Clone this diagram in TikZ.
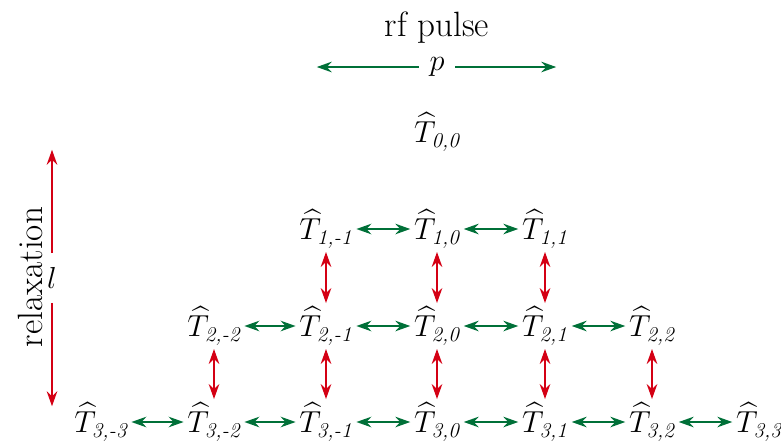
\documentclass[tikz,border=0pt]{standalone}
\usepackage{amsmath}
\usetikzlibrary{arrows.meta}
\definecolor{pulsegreen}{RGB}{0,112,56}
\definecolor{relaxred}{RGB}{212,0,20}

\begin{document}
\begin{tikzpicture}[x=0.02cm,y=-0.02cm,
    >={Stealth[length=8.5pt,width=6pt]},
    tens/.style={inner sep=1pt,font=\LARGE},
    rf/.style={pulsegreen,line width=1.1pt,shorten >=1pt,shorten <=1pt},
    rl/.style={relaxred,line width=1.1pt,shorten >=1pt,shorten <=1pt},
    bigtext/.style={font=\fontsize{20}{22}\selectfont}]
  \useasboundingbox (0,0) rectangle (781,441);
  % rf pulse and relaxation
  \node[bigtext] at (437,28) (rfp) {rf pulse};
  \node[font=\LARGE,inner sep=5pt] at (437,67) (p) {$p$};
  \coordinate (pl) at (315,67);
  \coordinate (pr) at (558,67);
  \draw[rf,->] (p) -- (pl);
  \draw[rf,->] (p) -- (pr);
  \node[bigtext,rotate=90] at (30,277) (relax) {relaxation};
  \node[font=\LARGE,inner sep=7pt] at (52,278) (l) {$l$};
  \coordinate (lt) at (52,148);
  \coordinate (lb) at (52,408);
  \draw[rl,->] (l) -- (lt);
  \draw[rl,->] (l) -- (lb);
  % tensor operators
  \node[tens] at (437,132) (t00) {$\widehat{T}_{\textit{0,0}}$};
  \node[tens] at (326,229) (t1m1) {$\widehat{T}_{\textit{1,-1}}$};
  \node[tens] at (437,229) (t10) {$\widehat{T}_{\textit{1,0}}$};
  \node[tens] at (545,229) (t11) {$\widehat{T}_{\textit{1,1}}$};
  \node[tens] at (214,326) (t2m2) {$\widehat{T}_{\textit{2,-2}}$};
  \node[tens] at (326,326) (t2m1) {$\widehat{T}_{\textit{2,-1}}$};
  \node[tens] at (437,326) (t20) {$\widehat{T}_{\textit{2,0}}$};
  \node[tens] at (545,326) (t21) {$\widehat{T}_{\textit{2,1}}$};
  \node[tens] at (652,326) (t22) {$\widehat{T}_{\textit{2,2}}$};
  \node[tens] at (101,422) (t3m3) {$\widehat{T}_{\textit{3,-3}}$};
  \node[tens] at (214,422) (t3m2) {$\widehat{T}_{\textit{3,-2}}$};
  \node[tens] at (326,422) (t3m1) {$\widehat{T}_{\textit{3,-1}}$};
  \node[tens] at (437,422) (t30) {$\widehat{T}_{\textit{3,0}}$};
  \node[tens] at (545,422) (t31) {$\widehat{T}_{\textit{3,1}}$};
  \node[tens] at (652,422) (t32) {$\widehat{T}_{\textit{3,2}}$};
  \node[tens] at (759,422) (t33) {$\widehat{T}_{\textit{3,3}}$};
  % coherence transfer
  \draw[rf,<->] (t1m1) -- (t10);
  \draw[rf,<->] (t10) -- (t11);
  \draw[rf,<->] (t2m2) -- (t2m1);
  \draw[rf,<->] (t2m1) -- (t20);
  \draw[rf,<->] (t20) -- (t21);
  \draw[rf,<->] (t21) -- (t22);
  \draw[rf,<->] (t3m3) -- (t3m2);
  \draw[rf,<->] (t3m2) -- (t3m1);
  \draw[rf,<->] (t3m1) -- (t30);
  \draw[rf,<->] (t30) -- (t31);
  \draw[rf,<->] (t31) -- (t32);
  \draw[rf,<->] (t32) -- (t33);
  % relaxation paths
  \draw[rl,<->] (t1m1) -- (t2m1);
  \draw[rl,<->] (t10) -- (t20);
  \draw[rl,<->] (t11) -- (t21);
  \draw[rl,<->] (t2m2) -- (t3m2);
  \draw[rl,<->] (t2m1) -- (t3m1);
  \draw[rl,<->] (t20) -- (t30);
  \draw[rl,<->] (t21) -- (t31);
  \draw[rl,<->] (t22) -- (t32);
\end{tikzpicture}
\end{document}
